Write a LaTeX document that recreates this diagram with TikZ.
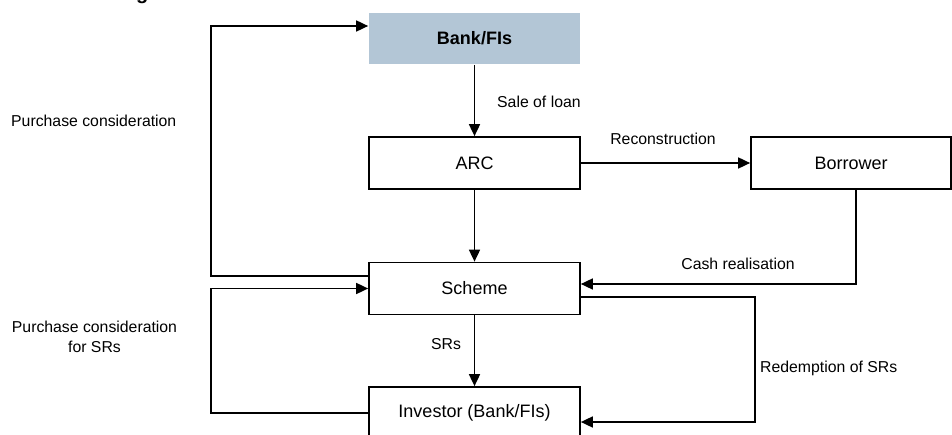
\documentclass[tikz,border=0pt]{standalone}
\usepackage{fontspec}
\setmainfont{Liberation Sans}
\usetikzlibrary{arrows.meta}
\definecolor{bankfill}{RGB}{179,198,214}
\tikzset{
  box/.style={draw, line width=1.7pt, minimum width=211pt, minimum height=52pt, inner sep=0pt, font=\fontsize{18}{21}\selectfont},
  arr/.style={line width=1.7pt, -{Triangle[length=12pt,width=11pt]}},
  lbl/.style={inner sep=0pt, font=\fontsize{15.8}{19.5}\selectfont},
}
\begin{document}
\begin{tikzpicture}[x=1pt,y=-1pt]
\useasboundingbox (0,0) rectangle (952,435);
% cut-off title fragment
\node[anchor=base west, inner sep=0pt, font=\fontsize{20}{24}\selectfont\bfseries] (ttl) at (136,-0.5) {g};
% boxes
\node[box, draw=none, fill=bankfill, minimum height=51pt, font=\fontsize{18}{21}\selectfont\bfseries] (bank) at (474.5,38.5) {Bank/FIs};
\node[box] (arc) at (474.5,163) {ARC};
\node[box] (scheme) at (474.5,288.5) {Scheme};
\node[box, minimum width=200pt] (borrower) at (851,163) {Borrower};
\node[box] (investor) at (474.5,413) {Investor (Bank/FIs)};
% coordinates
\coordinate (lc1) at (211,26);
\coordinate (lc2) at (211,288.5);
\coordinate (redc) at (755,422);
% connectors
\draw[arr] (bank) -- (arc);
\draw[arr] (arc) -- (scheme);
\draw[arr] (scheme) -- (investor);
\draw[arr] (arc) -- (borrower);
\draw[arr] ([xshift=5pt]borrower.south) |- ([yshift=4.5pt]scheme.east);
\draw[arr] ([yshift=-8.5pt]scheme.east) -| (redc) -- ([yshift=-9pt]investor.east);
\draw[arr] ([yshift=12.5pt]scheme.west) -| (lc1) -- ([yshift=12.5pt]bank.west);
\draw[arr] (investor.west) -| (lc2) -- (scheme.west);
% labels
\node[lbl, anchor=west] (l1) at (497,102) {Sale of loan};
\node[lbl] (l2) at (663,139) {Reconstruction};
\node[lbl] (l3) at (738,264) {Cash realisation};
\node[lbl, anchor=west] (l4) at (760,368) {Redemption of SRs};
\node[lbl, anchor=west] (l5) at (431,344) {SRs};
\node[lbl, anchor=west] (l6) at (11,121) {Purchase consideration};
\node[lbl, align=center] (l7) at (94.5,337) {Purchase consideration\\for SRs};
\end{tikzpicture}
\end{document}
